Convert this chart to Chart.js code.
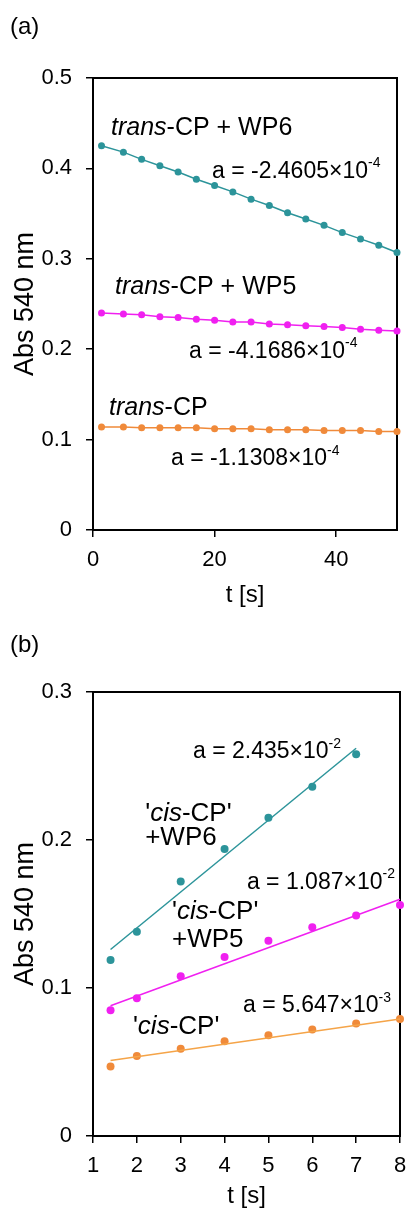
<!DOCTYPE html>
<html>
<head>
<meta charset="utf-8">
<script src="https://cdn.jsdelivr.net/npm/chart.js@4.4.1/dist/chart.umd.min.js"></script>
<style>
  html, body { margin: 0; padding: 0; background: #fff; }
  #wrap { position: relative; width: 409px; height: 1215px; }
  canvas { position: absolute; left: 0; }
  #chartA { top: 0; }
  #chartB { top: 610px; }
</style>
</head>
<body>
<div id="wrap">
  <canvas id="chartA" width="409" height="610"></canvas>
  <canvas id="chartB" width="409" height="605"></canvas>
</div>
<script>
// --------------
// DATA
// --------------
// (a) trans-CP, 540 nm absorbance vs time
const tA = [1.4, 5, 8, 11, 14, 17, 20, 23, 26, 29, 32, 35, 38, 41, 44, 47, 50];
const wp6A = [0.425, 0.418, 0.410, 0.403, 0.396, 0.388, 0.381, 0.374, 0.366, 0.359, 0.351, 0.344, 0.337, 0.329, 0.322, 0.315, 0.307];
const wp5A = [0.240, 0.239, 0.238, 0.236, 0.235, 0.233, 0.232, 0.230, 0.230, 0.228, 0.227, 0.226, 0.225, 0.224, 0.222, 0.221, 0.220];
const cpA  = [0.114, 0.114, 0.113, 0.113, 0.113, 0.113, 0.112, 0.112, 0.112, 0.111, 0.111, 0.111, 0.110, 0.110, 0.110, 0.109, 0.109];
const xTicksA = [0, 20, 40];
const yTicksA = [0, 0.1, 0.2, 0.3, 0.4, 0.5];
const slopeA = ['-2.4605', '-4.1686', '-1.1308'];
const powA = ['-4', '-4', '-4'];

// (b) 'cis-CP'
const tB = [1.4, 2, 3, 4, 5, 6, 7, 8];
const wp6B = [0.119, 0.138, 0.172, 0.194, 0.215, 0.236, 0.258];
const wp5B = [0.085, 0.093, 0.108, 0.121, 0.132, 0.141, 0.149, 0.156];
const cpB  = [0.047, 0.054, 0.059, 0.064, 0.068, 0.072, 0.076, 0.079];
// linear fit end points as drawn
const fitT6 = [1.4, 7];
const fitWp6 = [0.126, 0.262];
const fitT = [1.4, 8];
const fitWp5 = [0.088, 0.160];
const fitCp = [0.051, 0.079];
const xTicksB = [1, 2, 3, 4, 5, 6, 7, 8];
const yTicksB = [0, 0.1, 0.2, 0.3];
const slopeB = ['2.435', '1.087', '5.647'];
const powB = ['-2', '-2', '-3'];

// --------------
// STYLE
// --------------
const FONT = "'Liberation Sans', Arial, sans-serif";
const TEAL = '#2c949a';
const MAGENTA = '#f020f0';
const ORANGE = '#f08a3a';
const ORANGE_FIT = '#f5a448';

const xy = (xs, ys) => ys.map((v, i) => ({ x: xs[i], y: v }));

// box round the plot area
const frame = {
  id: 'frame',
  beforeDatasetsDraw(chart) {
    const { ctx, chartArea: a } = chart;
    ctx.save();
    ctx.strokeStyle = '#000';
    ctx.lineWidth = 2;
    ctx.strokeRect(a.left, a.top, a.right - a.left, a.bottom - a.top);
    ctx.restore();
  }
};

// panel letter + text labels placed in data units
const notes = {
  id: 'notes',
  afterDraw(chart, args, opts) {
    const { ctx, scales } = chart;
    ctx.save();
    ctx.fillStyle = '#000';
    ctx.textBaseline = 'middle';
    ctx.textAlign = 'left';
    ctx.font = `24px ${FONT}`;
    ctx.fillText(opts.panel, 10, opts.panelY);
    opts.items.forEach(it => {
      let cx = scales.x.getPixelForValue(it.x);
      const cy = scales.y.getPixelForValue(it.y);
      it.parts.forEach(p => {
        const fs = p.sup ? Math.round(it.size * 0.62) : it.size;
        ctx.font = `${p.it ? 'italic ' : ''}${fs}px ${FONT}`;
        ctx.fillText(p.t, cx, p.sup ? cy - it.size * 0.36 : cy);
        cx += ctx.measureText(p.t).width;
      });
    });
    ctx.restore();
  }
};

function slopeParts(s, p) {
  return [{ t: 'a = ' + s + '\u00d710' }, { t: p, sup: true }];
}

function axes(o) {
  return {
    x: {
      type: 'linear', min: o.xmin, max: o.xmax,
      afterBuildTicks: s => { s.ticks = o.xTicks.map(v => ({ value: v })); },
      // fixed axis height, and no extra side room for the edge labels
      afterFit: s => { s.height = o.xh; s.paddingLeft = 0; s.paddingRight = 0; },
      grid: { drawOnChartArea: false, tickLength: 7, color: '#000', lineWidth: 1.5 },
      border: { color: '#000', width: 2 },
      ticks: { color: '#000', font: { family: FONT, size: 22 }, padding: 10, maxRotation: 0, callback: v => String(v) },
      title: { display: true, text: 't [s]', color: '#000', font: { family: FONT, size: 24 }, padding: { top: 0, bottom: o.titlePad } }
    },
    y: {
      type: 'linear', min: o.ymin, max: o.ymax,
      afterBuildTicks: s => { s.ticks = o.yTicks.map(v => ({ value: v })); },
      afterFit: s => { s.width = 93; },
      grid: { drawOnChartArea: false, tickLength: 7, color: '#000', lineWidth: 1.5 },
      border: { color: '#000', width: 2 },
      ticks: { color: '#000', font: { family: FONT, size: 22 }, padding: 14, callback: v => String(v) },
      title: { display: true, text: 'Abs 540 nm', color: '#000', font: { family: FONT, size: 27 }, padding: { top: 9, bottom: 0 } }
    }
  };
}

// --------------
// (a)
// --------------
function seriesA(data, color) {
  return {
    data: data, showLine: true, borderColor: color, backgroundColor: color,
    borderWidth: 1.5, pointRadius: 3.5, pointBorderWidth: 0, clip: false
  };
}

new Chart(document.getElementById('chartA'), {
  type: 'scatter',
  data: {
    datasets: [
      seriesA(xy(tA, wp6A), TEAL),
      seriesA(xy(tA, wp5A), MAGENTA),
      seriesA(xy(tA, cpA), ORANGE)
    ]
  },
  options: {
    responsive: false, animation: false, devicePixelRatio: 1,
    layout: { padding: { top: 78, right: 12, left: 0, bottom: 0 } },
    scales: axes({ xmin: 0, xmax: 50, xTicks: xTicksA, ymin: 0, ymax: 0.5, yTicks: yTicksA, xh: 80, titlePad: 0 }),
    plugins: {
      legend: { display: false }, tooltip: { enabled: false },
      notes: {
        panel: '(a)', panelY: 27,
        items: [
          { x: 2.96, y: 0.4447, size: 25, parts: [{ t: 'trans', it: true }, { t: '-CP + WP6' }] },
          { x: 19.57, y: 0.3963, size: 23, parts: slopeParts(slopeA[0], powA[0]) },
          { x: 3.62, y: 0.2688, size: 25, parts: [{ t: 'trans', it: true }, { t: '-CP + WP5' }] },
          { x: 15.79, y: 0.1972, size: 23, parts: slopeParts(slopeA[1], powA[1]) },
          { x: 2.63, y: 0.135, size: 25, parts: [{ t: 'trans', it: true }, { t: '-CP' }] },
          { x: 12.83, y: 0.0785, size: 23, parts: slopeParts(slopeA[2], powA[2]) }
        ]
      }
    }
  },
  plugins: [frame, notes]
});

// --------------
// (b)
// --------------
function pointsB(data, color) {
  return { data: data, backgroundColor: color, borderColor: color, pointRadius: 4, pointBorderWidth: 0, clip: false };
}
function fitB(data, color) {
  return { data: data, showLine: true, borderColor: color, borderWidth: 1.5, pointRadius: 0, clip: false };
}

const cisParts = [{ t: "'" }, { t: 'cis', it: true }, { t: "-CP'" }];

new Chart(document.getElementById('chartB'), {
  type: 'scatter',
  data: {
    datasets: [
      fitB(xy(fitT6, fitWp6), TEAL),
      fitB(xy(fitT, fitWp5), MAGENTA),
      fitB(xy(fitT, fitCp), ORANGE_FIT),
      pointsB(xy(tB, wp6B), TEAL),
      pointsB(xy(tB, wp5B), MAGENTA),
      pointsB(xy(tB, cpB), ORANGE)
    ]
  },
  options: {
    responsive: false, animation: false, devicePixelRatio: 1,
    layout: { padding: { top: 82, right: 9, left: 0, bottom: 0 } },
    scales: axes({ xmin: 1, xmax: 8, xTicks: xTicksB, ymin: 0, ymax: 0.3, yTicks: yTicksB, xh: 79, titlePad: 4 }),
    plugins: {
      legend: { display: false }, tooltip: { enabled: false },
      notes: {
        panel: '(b)', panelY: 35,
        items: [
          { x: 3.28, y: 0.2595, size: 23, parts: slopeParts(slopeB[0], powB[0]) },
          { x: 2.19, y: 0.2176, size: 26, parts: cisParts },
          { x: 2.19, y: 0.2014, size: 26, parts: [{ t: '+WP6' }] },
          { x: 4.51, y: 0.1713, size: 23, parts: slopeParts(slopeB[1], powB[1]) },
          { x: 2.80, y: 0.1514, size: 26, parts: cisParts },
          { x: 2.80, y: 0.1324, size: 26, parts: [{ t: '+WP5' }] },
          { x: 4.42, y: 0.0878, size: 23, parts: slopeParts(slopeB[2], powB[2]) },
          { x: 1.91, y: 0.0739, size: 26, parts: cisParts }
        ]
      }
    }
  },
  plugins: [frame, notes]
});
</script>
</body>
</html>
